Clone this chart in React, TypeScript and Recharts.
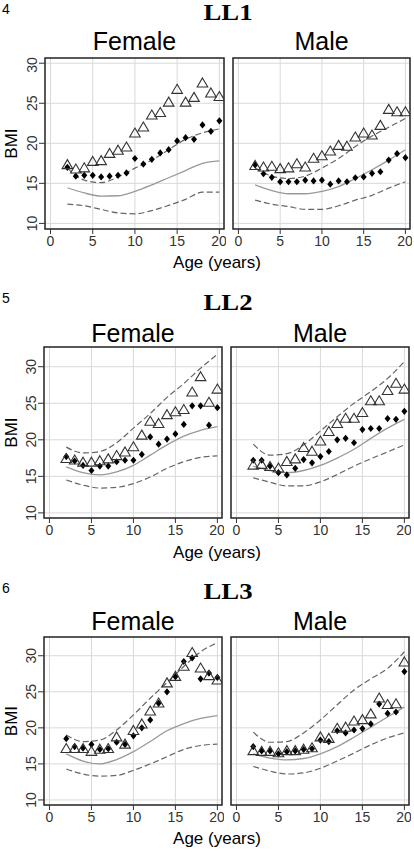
import React from "react";
import {
  ComposedChart,
  Scatter,
  Line,
  XAxis,
  YAxis,
  CartesianGrid,
  ReferenceArea,
} from "recharts";

// ages of the observed / predicted points and of the reference curves
const AGES = [2, 3, 4, 5, 6, 7, 8, 9, 10, 11, 12, 13, 14, 15, 16, 17, 18, 19, 20];
const CURVE_AGES = [2, 4, 6, 8, 10, 12, 14, 16, 18, 20];
const X_TICKS = [0, 5, 10, 15, 20];
const Y_TICKS = [10, 15, 20, 25, 30];

// LL1
const LL1_F_OBS = [17.3, 16.75, 16.9, 17.7, 17.8, 18.7, 19.1, 19.5, 21.25, 22.0, 23.5, 23.8, 25.1, 26.7, 25.1, 25.7, 27.5, 26.25, 25.8];
const LL1_F_PRED = [17.0, 15.9, 16.0, 16.0, 15.8, 15.9, 16.0, 16.3, 18.1, 17.4, 18.0, 18.8, 19.2, 20.3, 20.7, 20.5, 22.3, 21.5, 22.8];
const LL1_F_MID = [14.45, 13.8, 13.4, 13.45, 14.0, 14.8, 15.7, 16.6, 17.5, 17.8];
const LL1_F_LO = [12.4, 12.2, 11.75, 11.3, 11.2, 11.6, 12.25, 13.0, 13.9, 13.9];
const LL1_F_HI = [16.9, 15.4, 15.1, 15.8, 16.9, 17.9, 19.2, 20.5, 21.3, 21.8];

const LL1_M_OBS = [17.2, 17.0, 17.1, 16.8, 16.9, 17.4, 17.0, 18.1, 18.4, 19.0, 19.7, 19.6, 20.75, 21.25, 21.0, 22.2, 24.2, 23.9, 23.9];
const LL1_M_PRED = [17.3, 16.2, 15.75, 15.2, 15.2, 15.2, 15.4, 15.3, 15.4, 14.9, 15.3, 15.2, 15.7, 15.8, 16.25, 16.45, 17.9, 18.7, 18.2];
const LL1_M_MID = [14.8, 14.1, 13.7, 13.7, 14.0, 14.6, 15.6, 16.7, 17.9, 19.2];
const LL1_M_LO = [12.9, 12.4, 12.1, 11.75, 11.75, 12.2, 12.9, 13.5, 14.4, 15.2];
const LL1_M_HI = [16.9, 15.9, 15.6, 15.9, 16.9, 18.1, 19.6, 20.9, 22.0, 23.1];

// LL2
const LL2_F_OBS = [17.4, 17.2, 16.9, 16.9, 17.1, 17.35, 17.8, 18.3, 19.0, 20.6, 22.5, 22.2, 23.4, 23.8, 24.1, 26.5, 28.6, 25.1, 26.9];
const LL2_F_PRED = [17.7, 17.1, 16.5, 15.8, 16.4, 16.4, 17.0, 17.2, 17.2, 18.0, 20.4, 19.4, 20.1, 20.8, 22.1, 24.65, 24.65, 22.0, 24.4];
const LL2_F_MID = [16.3, 15.5, 15.2, 15.6, 16.5, 17.9, 19.3, 20.5, 21.3, 21.8];
const LL2_F_LO = [14.5, 13.8, 13.4, 13.5, 14.0, 14.9, 16.1, 17.0, 17.6, 17.8];
const LL2_F_HI = [19.0, 18.2, 18.4, 19.6, 21.6, 23.6, 25.8, 27.7, 29.8, 31.7];

const LL2_M_OBS = [16.5, 16.6, 16.3, 16.1, 17.0, 17.35, 18.9, 18.4, 19.8, 21.1, 22.2, 22.9, 22.9, 23.7, 25.3, 25.3, 26.7, 27.7, 26.9];
const LL2_M_PRED = [17.2, 17.2, 16.4, 15.5, 15.2, 16.1, 17.3, 16.85, 17.7, 18.4, 20.0, 20.2, 19.6, 21.4, 21.55, 21.55, 22.9, 22.8, 23.9];
const LL2_M_MID = [16.4, 15.8, 15.5, 15.8, 16.5, 17.5, 18.7, 20.2, 21.6, 22.8];
const LL2_M_LO = [14.8, 14.2, 13.7, 13.7, 14.25, 15.25, 16.4, 17.4, 18.35, 19.3];
const LL2_M_HI = [19.4, 17.9, 18.1, 19.3, 21.2, 23.15, 25.0, 26.6, 28.4, 30.7];

// LL3
const LL3_F_OBS = [17.1, 17.1, 17.1, 16.7, 17.0, 17.1, 18.7, 17.7, 19.6, 20.5, 22.3, 23.4, 26.2, 27.1, 28.5, 30.4, 28.25, 27.2, 26.6];
const LL3_F_PRED = [18.5, 17.4, 17.2, 17.7, 17.0, 17.1, 18.0, 17.7, 18.9, 20.0, 21.1, 23.4, 25.0, 27.1, 29.2, 29.7, 26.8, 27.6, 27.0];
const LL3_F_MID = [16.4, 15.4, 15.0, 15.6, 16.7, 18.1, 19.6, 20.6, 21.3, 21.7];
const LL3_F_LO = [14.3, 13.6, 13.3, 13.4, 14.1, 15.0, 16.0, 17.0, 17.55, 17.75];
const LL3_F_HI = [19.0, 18.1, 18.3, 19.7, 21.8, 24.1, 26.3, 28.5, 30.55, 31.8];

const LL3_M_OBS = [16.8, 16.7, 16.7, 16.5, 16.8, 16.8, 17.0, 17.2, 18.7, 18.5, 19.9, 20.05, 20.9, 21.1, 21.9, 24.1, 23.2, 23.3, 29.1];
const LL3_M_PRED = [17.4, 16.8, 16.8, 16.4, 16.7, 16.8, 17.0, 17.1, 18.3, 18.1, 19.6, 19.3, 19.7, 19.9, 20.55, 23.3, 22.0, 22.2, 27.8];
const LL3_M_MID = [16.4, 15.8, 15.55, 15.75, 16.4, 17.4, 18.7, 20.1, 21.5, 22.9];
const LL3_M_LO = [14.65, 14.0, 13.6, 13.75, 14.4, 15.4, 16.5, 17.65, 18.6, 19.3];
const LL3_M_HI = [19.4, 18.0, 18.1, 19.3, 21.1, 23.2, 25.25, 26.8, 28.25, 30.55];

const FONT = "'Liberation Sans', Arial, sans-serif";
const SERIF = "'Liberation Serif', 'Times New Roman', serif";
const X_DOMAIN: [number, number] = [-0.65, 20.55];

const pts = (xs: number[], ys: number[]) => xs.map((x, i) => ({ x, y: ys[i] }));

const Triangle = (props: any) => {
  const { cx, cy } = props;
  if (cx == null || cy == null) return null;
  return (
    <path
      d={`M${cx},${cy - 5.3} L${cx + 5.3},${cy + 3.7} L${cx - 5.3},${cy + 3.7} Z`}
      fill="none"
      stroke="#333"
      strokeWidth={1.1}
    />
  );
};

const Diamond = (props: any) => {
  const { cx, cy } = props;
  if (cx == null || cy == null) return null;
  return (
    <path
      d={`M${cx},${cy - 3.6} L${cx + 3},${cy} L${cx},${cy + 3.6} L${cx - 3},${cy} Z`}
      fill="#000"
    />
  );
};

const RotatedTick = (props: any) => {
  const { x, y, payload } = props;
  return (
    <text
      x={x}
      y={y}
      transform={`rotate(-90 ${x} ${y})`}
      textAnchor="middle"
      fontSize={14}
      fill="#333"
      fontFamily={FONT}
    >
      {payload.value}
    </text>
  );
};

interface Box {
  left: number;
  right: number;
  top: number;
  bottom: number;
}

interface PanelProps {
  box: Box;
  yDomain: [number, number];
  showY: boolean;
  obs: number[];
  pred: number[];
  mid: number[];
  lo: number[];
  hi: number[];
}

const Panel = ({ box, yDomain, showY, obs, pred, mid, lo, hi }: PanelProps) => {
  const chartLeft = showY ? 0 : box.left - 2;
  const width = box.right + 2 - chartLeft;
  const height = box.bottom - box.top + 2 + 30;
  return (
    <div style={{ position: "absolute", left: chartLeft, top: box.top - 2 }}>
      <ComposedChart
        width={width}
        height={height}
        margin={{ top: 2, right: 2, bottom: 0, left: showY ? 0 : 2 }}
      >
        <CartesianGrid
          stroke="#d9d9d9"
          strokeWidth={1}
          horizontalValues={Y_TICKS}
          verticalValues={X_TICKS}
        />
        <XAxis
          type="number"
          dataKey="x"
          domain={X_DOMAIN}
          ticks={X_TICKS}
          allowDataOverflow
          axisLine={false}
          tickLine={{ stroke: "#333" }}
          tickSize={5}
          tickMargin={2}
          height={30}
          tick={{ fontSize: 14, fill: "#333", fontFamily: FONT }}
        />
        <YAxis
          type="number"
          domain={yDomain}
          ticks={Y_TICKS}
          allowDataOverflow
          hide={!showY}
          width={showY ? box.left : 0}
          axisLine={false}
          tickLine={{ stroke: "#333" }}
          tickSize={6}
          tickMargin={2}
          tick={<RotatedTick />}
        />
        <Line data={pts(CURVE_AGES, lo)} dataKey="y" type="monotone" stroke="#666" strokeWidth={1.2} strokeDasharray="6 3" dot={false} isAnimationActive={false} />
        <Line data={pts(CURVE_AGES, hi)} dataKey="y" type="monotone" stroke="#666" strokeWidth={1.2} strokeDasharray="6 3" dot={false} isAnimationActive={false} />
        <Line data={pts(CURVE_AGES, mid)} dataKey="y" type="monotone" stroke="#999" strokeWidth={1.3} dot={false} isAnimationActive={false} />
        <Scatter data={pts(AGES, pred)} dataKey="y" shape={<Diamond />} isAnimationActive={false} />
        <Scatter data={pts(AGES, obs)} dataKey="y" shape={<Triangle />} isAnimationActive={false} />
        <ReferenceArea
          x1={X_DOMAIN[0]}
          x2={X_DOMAIN[1]}
          y1={yDomain[0]}
          y2={yDomain[1]}
          fill="none"
          stroke="#222"
          strokeWidth={1.5}
          ifOverflow="visible"
        />
      </ComposedChart>
    </div>
  );
};

interface RowSpec {
  num: string;
  title: string;
  numBase: number;
  titleBase: number;
  stripBase: number;
  xlabBase: number;
  fBox: Box;
  mBox: Box;
  yDomain: [number, number];
  f: number[][];
  m: number[][];
}

const ROWS: RowSpec[] = [
  {
    num: "4", title: "LL1", numBase: 14, titleBase: 20, stripBase: 50, xlabBase: 268,
    fBox: { left: 45, right: 224, top: 58, bottom: 229 },
    mBox: { left: 233, right: 410, top: 58, bottom: 229 },
    yDomain: [9.3, 30.65],
    f: [LL1_F_OBS, LL1_F_PRED, LL1_F_MID, LL1_F_LO, LL1_F_HI],
    m: [LL1_M_OBS, LL1_M_PRED, LL1_M_MID, LL1_M_LO, LL1_M_HI],
  },
  {
    num: "5", title: "LL2", numBase: 303, titleBase: 310, stripBase: 342, xlabBase: 558,
    fBox: { left: 44, right: 222, top: 347, bottom: 518 },
    mBox: { left: 231, right: 409, top: 347, bottom: 518 },
    yDomain: [9.3, 32.7],
    f: [LL2_F_OBS, LL2_F_PRED, LL2_F_MID, LL2_F_LO, LL2_F_HI],
    m: [LL2_M_OBS, LL2_M_PRED, LL2_M_MID, LL2_M_LO, LL2_M_HI],
  },
  {
    num: "6", title: "LL3", numBase: 593, titleBase: 599, stripBase: 630, xlabBase: 844,
    fBox: { left: 44, right: 222, top: 637, bottom: 805 },
    mBox: { left: 231, right: 409, top: 637, bottom: 805 },
    yDomain: [9.3, 32.6],
    f: [LL3_F_OBS, LL3_F_PRED, LL3_F_MID, LL3_F_LO, LL3_F_HI],
    m: [LL3_M_OBS, LL3_M_PRED, LL3_M_MID, LL3_M_LO, LL3_M_HI],
  },
];

export default function App() {
  return (
    <div style={{ position: "absolute", left: 0, top: 0, width: 414, height: 852, background: "#fff", fontFamily: FONT }}>
      <svg width={414} height={852} style={{ position: "absolute", left: 0, top: 0 }}>
        {ROWS.map((r) => (
          <g key={r.title}>
            <text x={2} y={r.numBase} fontSize={14} fontFamily={FONT} fill="#000">{r.num}</text>
            <text
              x={228}
              y={r.titleBase}
              fontSize={23}
              fontWeight="bold"
              fontFamily={SERIF}
              textAnchor="middle"
              textLength={49}
              lengthAdjust="spacingAndGlyphs"
              fill="#000"
            >
              {r.title}
            </text>
            <text x={(r.fBox.left + r.fBox.right) / 2} y={r.stripBase} fontSize={25} fontFamily={FONT} textAnchor="middle" fill="#000">Female</text>
            <text x={(r.mBox.left + r.mBox.right) / 2} y={r.stripBase} fontSize={25} fontFamily={FONT} textAnchor="middle" fill="#000">Male</text>
            <text
              x={17}
              y={(r.fBox.top + r.fBox.bottom) / 2}
              transform={`rotate(-90 17 ${(r.fBox.top + r.fBox.bottom) / 2})`}
              fontSize={17}
              fontFamily={FONT}
              textAnchor="middle"
              fill="#000"
            >
              BMI
            </text>
            <text x={217} y={r.xlabBase} fontSize={17} fontFamily={FONT} textAnchor="middle" fill="#000">Age (years)</text>
          </g>
        ))}
      </svg>
      {ROWS.map((r) => (
        <React.Fragment key={r.title}>
          <Panel box={r.fBox} yDomain={r.yDomain} showY obs={r.f[0]} pred={r.f[1]} mid={r.f[2]} lo={r.f[3]} hi={r.f[4]} />
          <Panel box={r.mBox} yDomain={r.yDomain} showY={false} obs={r.m[0]} pred={r.m[1]} mid={r.m[2]} lo={r.m[3]} hi={r.m[4]} />
        </React.Fragment>
      ))}
    </div>
  );
}
